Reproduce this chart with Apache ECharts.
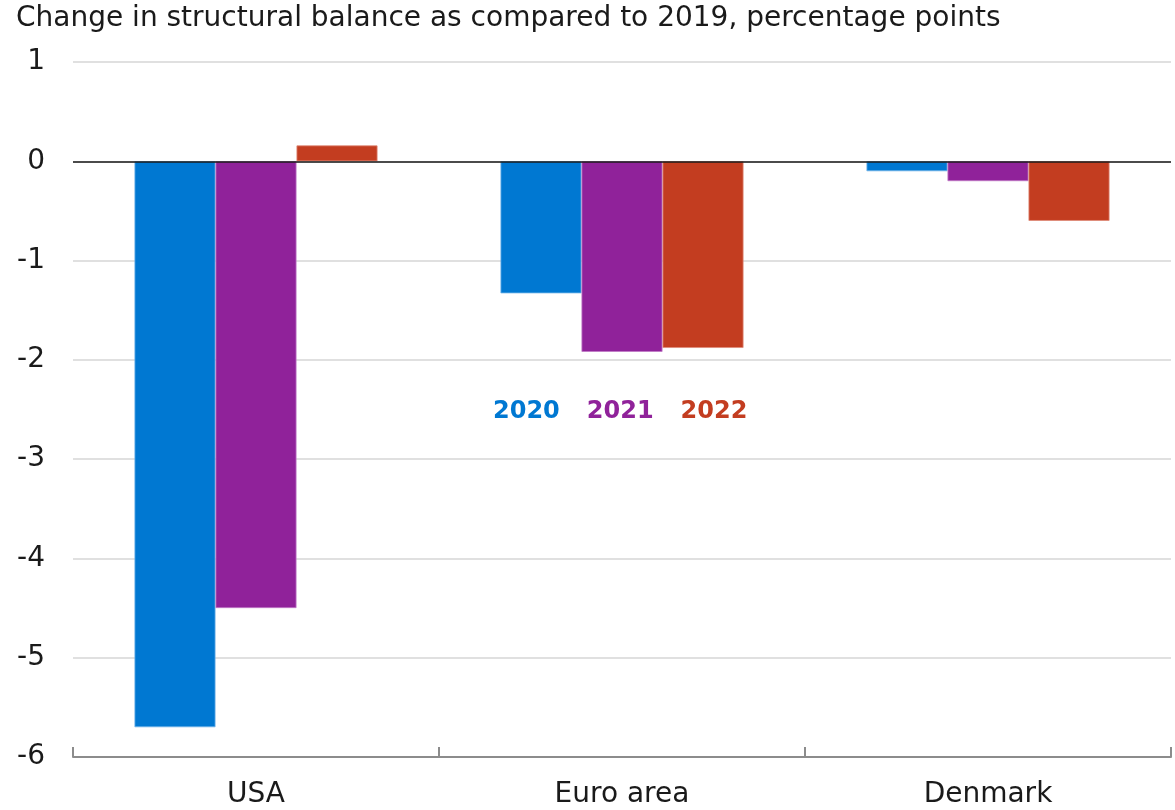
<!DOCTYPE html>
<html>
<head>
<meta charset="utf-8">
<script src="https://cdn.jsdelivr.net/npm/echarts@6/dist/echarts.min.js"></script>
<style>
  html, body { margin: 0; padding: 0; background: #fff; }
  #chart { width: 1175px; height: 810px; }
</style>
</head>
<body>
<div id="chart"></div>
<script>
const categories = ["USA", "Euro area", "Denmark"];
const years = ["2020", "2021", "2022"];
const values2020 = [-5.7, -1.33, -0.1];
const values2021 = [-4.5, -1.92, -0.2];
const values2022 = [0.16, -1.88, -0.6];
const yTicks = { min: -6, max: 1, interval: 1 };
const colors = ["#0078d2", "#90229a", "#c33d20"];
const edgeColors = ["#6fb3e8", "#c07ac6", "#e08a78"];

const font = "'DejaVu Sans', 'Noto Sans', sans-serif";
const chart = echarts.init(document.getElementById("chart"));

const seriesValues = [values2020, values2021, values2022];
const series = years.map((y, i) => {
  const s = {
    name: y,
    type: "bar",
    data: seriesValues[i],
    barGap: "0%",
    barCategoryGap: "33.6%",
    itemStyle: { color: colors[i], borderColor: edgeColors[i], borderWidth: 0.8 },
    emphasis: { disabled: true },
  };
  // 0-linje
  if (i === 0) {
    s.markLine = {
      silent: true,
      symbol: "none",
      label: { show: false },
      lineStyle: { color: "#1a1a1a", width: 1.5, type: "solid" },
      data: [{ yAxis: 0 }],
    };
  }
  return s;
});

const option = {
  animation: false,
  color: colors,
  title: {
    text: "Change in structural balance as compared to 2019, percentage points",
    left: 11,
    top: 0,
    textStyle: { fontFamily: font, fontSize: 28, fontWeight: "normal", color: "#1a1a1a" },
  },
  legend: {
    left: 482,
    top: 395,
    itemWidth: 0,
    itemHeight: 0,
    itemGap: 21,
    selectedMode: false,
    data: years.map((y, i) => ({
      name: y,
      textStyle: { color: colors[i], fontFamily: font, fontSize: 24, fontWeight: "bold" },
    })),
  },
  grid: { left: 73, right: 4, top: 62, bottom: 53, containLabel: false },
  xAxis: {
    type: "category",
    data: categories,
    axisLine: { onZero: false, lineStyle: { color: "#8c8c8c", width: 2 } },
    axisTick: { show: true, inside: true, length: 10, lineStyle: { color: "#8c8c8c", width: 2 } },
    axisLabel: { margin: 24, fontFamily: font, fontSize: 28, color: "#1a1a1a" },
  },
  yAxis: {
    type: "value",
    min: yTicks.min,
    max: yTicks.max,
    interval: yTicks.interval,
    axisLine: { show: false },
    axisTick: { show: false },
    axisLabel: { margin: 28, fontFamily: font, fontSize: 28, color: "#1a1a1a" },
    splitLine: { lineStyle: { color: "#d6d6d6", width: 1.5 } },
  },
  series: series,
};

chart.setOption(option);
</script>
</body>
</html>
